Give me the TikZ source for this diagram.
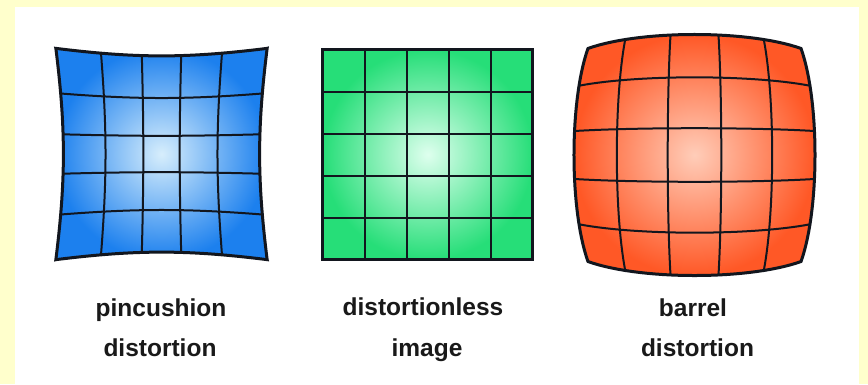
\documentclass[tikz,border=0pt]{standalone}
\usepackage{fontspec}
\setmainfont{Liberation Sans}
\definecolor{framebg}{RGB}{255,255,204}
\definecolor{bluein}{RGB}{215,238,252}
\definecolor{blueout}{RGB}{28,128,238}
\definecolor{greenin}{RGB}{222,255,238}
\definecolor{greenout}{RGB}{38,222,120}
\definecolor{orangein}{RGB}{255,205,185}
\definecolor{orangeout}{RGB}{255,88,38}
\definecolor{gridink}{RGB}{18,22,30}
\tikzset{
  gridline/.style={draw=gridink, line width=2pt},
  outline/.style={draw=gridink, line width=3pt, line join=miter},
  caption/.style={font=\bfseries\fontsize{24.5}{29}\selectfont, text=black!90, inner sep=0pt, anchor=base},
  declare function={
    PX(\xx,\yy)=\gcx+\gs*\xx*(1+\gk*(\xx*\xx+\yy*\yy));
    PY(\xx,\yy)=\gcy+\gs*\yy*(1+\gk*(\xx*\xx+\yy*\yy));
  }
}
% #1 cx, #2 cy, #3 scale, #4 distortion k, #5 inner colour, #6 outer colour
\newcommand\distsquare[6]{%
  \def\gcx{#1}\def\gcy{#2}\def\gs{#3}\def\gk{#4}%
  \def\gbody{plot[variable=\t,domain=-1:1,samples=31] ({PX(\t,-1)},{PY(\t,-1)})
    -- plot[variable=\t,domain=-1:1,samples=31] ({PX(1,\t)},{PY(1,\t)})
    -- plot[variable=\t,domain=1:-1,samples=31] ({PX(\t,1)},{PY(\t,1)})
    -- plot[variable=\t,domain=1:-1,samples=31] ({PX(-1,\t)},{PY(-1,\t)}) -- cycle}%
  \shade[inner color=#5, outer color=#6] \gbody;
  \foreach \i in {-0.6,-0.2,0.2,0.6}{%
    \draw[gridline] plot[variable=\t,domain=-1:1,samples=31] ({PX(\i,\t)},{PY(\i,\t)});
    \draw[gridline] plot[variable=\t,domain=-1:1,samples=31] ({PX(\t,\i)},{PY(\t,\i)});
  }%
  \draw[outline] \gbody;
}
\begin{document}
\begin{tikzpicture}[x=1pt,y=-1pt]
  \fill[framebg] (0,0) rectangle (868,384);
  \fill[white] (15,7) rectangle (859,384);
  \useasboundingbox (0,0) rectangle (868,384);

  \distsquare{161.5}{154}{90.6}{0.083}{bluein}{blueout}
  \distsquare{427.7}{154.5}{105}{0}{greenin}{greenout}
  \distsquare{694.5}{155}{134.5}{-0.104}{orangein}{orangeout}

  \node[caption] (pin1) at (161,316) {pincushion};
  \node[caption] (pin2) at (160,356) {distortion};
  \node[caption] (std1) at (423,315) {distortionless};
  \node[caption] (std2) at (427,356) {image};
  \node[caption] (bar1) at (693,316) {barrel};
  \node[caption] (bar2) at (697.5,356) {distortion};
\end{tikzpicture}
\end{document}
